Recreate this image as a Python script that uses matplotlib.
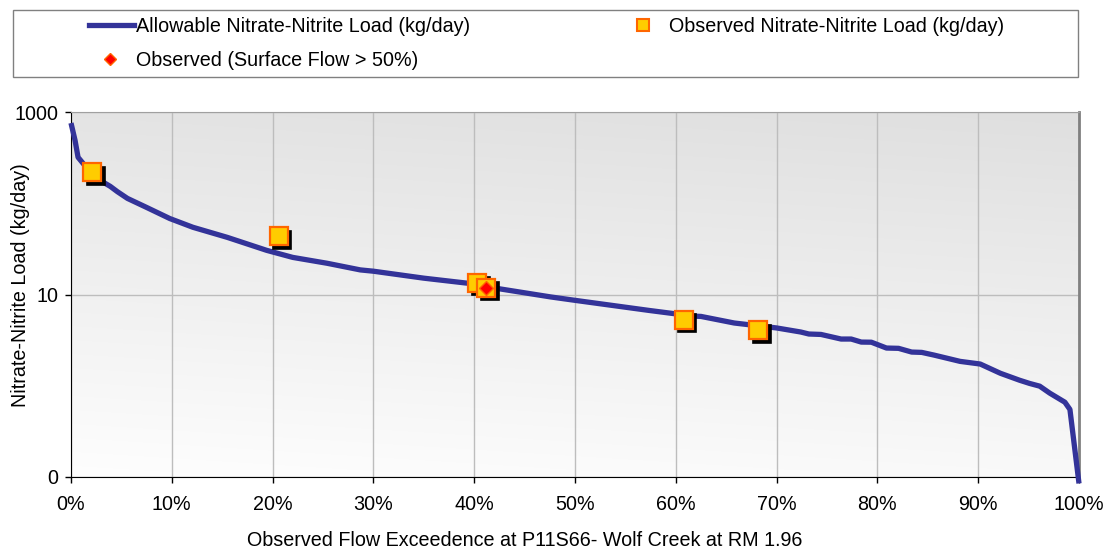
import numpy as np
import matplotlib
matplotlib.use("Agg")
import matplotlib.pyplot as plt
from matplotlib.ticker import FixedLocator, FixedFormatter, PercentFormatter
from matplotlib.lines import Line2D
from matplotlib.patches import Rectangle
from matplotlib.transforms import offset_copy

plt.rcParams['font.family'] = ['Liberation Sans', 'DejaVu Sans']

# ---- data ----
curve_pct = [0.0, 0.4, 0.7, 1.3, 1.9, 2.5, 3.2, 3.9, 4.6, 5.6, 7.5, 9.8, 12.1, 15.5, 19.4,
             22.0, 25.4, 28.7, 30.0, 35.0, 40.1, 42.6, 47.6, 50.1, 57.3, 61.7, 62.5,
             65.8, 70.0, 72.4, 73.2, 74.4, 76.4, 77.4, 78.4, 79.4, 80.9, 82.1, 83.4,
             84.4, 85.6, 88.2, 90.2, 92.2, 94.1, 95.1, 96.1, 97.1, 98.6, 99.1, 100.0]
curve_load = [757, 490, 319, 265, 229, 196, 170, 153, 134, 113, 90, 68, 54.5, 42.3, 30.5,
              25.5, 22.0, 18.6, 18.0, 15.1, 13.0, 11.5, 9.4, 8.6, 6.7, 5.8, 5.75,
              4.87, 4.3, 3.88, 3.69, 3.65, 3.25, 3.25, 3.01, 3.0, 2.59, 2.57, 2.34,
              2.32, 2.17, 1.85, 1.73, 1.37, 1.15, 1.06, 0.99, 0.83, 0.66, 0.55, 0.085]

obs_pct = [2.1, 20.6, 40.3, 41.2, 60.8, 68.2]
obs_load = [218, 43.5, 13.4, 11.8, 5.26, 4.08]

surf_pct = [41.2]
surf_load = [11.8]

y_ticks = [0.1, 10, 1000]
y_tick_labels = ["0", "10", "1000"]
x_ticks = [0, 10, 20, 30, 40, 50, 60, 70, 80, 90, 100]

line_label = "Allowable Nitrate-Nitrite Load (kg/day)"
obs_label = "Observed Nitrate-Nitrite Load (kg/day)"
surf_label = "Observed (Surface Flow > 50%)"
x_label = "Observed Flow Exceedence at P11S66- Wolf Creek at RM 1.96"
y_label = "Nitrate-Nitrite Load (kg/day)"

W, H = 1112, 552
FS = 14.2
fig = plt.figure(figsize=(W / 100, H / 100), dpi=100)
ax = fig.add_axes([71 / W, 1 - 477 / H, 1008 / W, 365 / H])

# background gradient
ny, nx = 200, 200
yy, xx = np.mgrid[0:1:ny * 1j, 0:1:nx * 1j]
t = np.clip(0.85 * yy + 0.15 * xx, 0, 1)  # yy=0 at bottom (origin lower)
top, bot = 0.875, 0.995
val = bot + (top - bot) * t
img = np.dstack([val, val, val])
ax.imshow(img, extent=[0, 1, 0, 1], transform=ax.transAxes, origin='lower',
          aspect='auto', zorder=0, interpolation='bilinear')

ax.set_yscale('log')
ax.set_xlim(0, 100)
ax.set_ylim(0.1, 1000)

ax.plot(curve_pct, curve_load, color='#333399', lw=3.8, zorder=3,
        solid_joinstyle='round', solid_capstyle='butt', clip_on=False)

shadow = offset_copy(ax.transData, fig=fig, x=3.5, y=-3.5, units='dots')
ax.plot(obs_pct, obs_load, ls='none', marker='s', ms=13, mfc='black', mec='black',
        mew=1.2, transform=shadow, zorder=4)
ax.plot(obs_pct, obs_load, ls='none', marker='s', ms=13, mfc='#FFCC00', mec='#FF6600',
        mew=1.6, zorder=5)
ax.plot(surf_pct, surf_load, ls='none', marker='D', ms=7.5, mfc='#FF0000', mec='#FF6600',
        mew=1.0, zorder=6)

ax.yaxis.set_major_locator(FixedLocator(y_ticks))
ax.yaxis.set_major_formatter(FixedFormatter(y_tick_labels))
ax.yaxis.set_minor_locator(FixedLocator([]))
ax.xaxis.set_major_locator(FixedLocator(x_ticks))
ax.xaxis.set_major_formatter(PercentFormatter(xmax=100, decimals=0))

ax.tick_params(axis='both', direction='out', length=4, width=1, color='black',
               labelsize=FS, pad=5)
ax.tick_params(axis='x', pad=9)
ax.grid(True, which='major', color='#BDBDBD', lw=1, zorder=1)
ax.set_axisbelow(True)

ax.spines['left'].set_color('black')
ax.spines['bottom'].set_color('black')
ax.spines['top'].set_color('#A0A0A0')
ax.spines['right'].set_color('#808080')
ax.spines['right'].set_linewidth(2)
for s in ax.spines.values():
    s.set_zorder(2)

fig.text(21 / W, 1 - 285 / H, y_label, rotation=90, ha='center', va='center', fontsize=FS)
fig.text(525 / W, 1 - 540 / H, x_label, ha='center', va='center', fontsize=FS)

# legend frame
fig.patches.append(Rectangle((13 / W, 1 - 77 / H), 1065 / W, 67 / H,
                             transform=fig.transFigure, fill=False,
                             edgecolor='#808080', lw=1))

h_line = Line2D([], [], color='#333399', lw=3.8)
h_obs = Line2D([], [], ls='none', marker='s', ms=8.3, mfc='#FFCC00', mec='#FF6600', mew=1.5)
h_surf = Line2D([], [], ls='none', marker='D', ms=6.5, mfc='#FF0000', mec='#FF6600', mew=1.0)

common = dict(frameon=False, borderpad=0, borderaxespad=0, loc='center left', fontsize=FS)
fig.legend([h_line], [line_label], bbox_to_anchor=(89 / W, 1 - 26 / H),
           handlelength=2.28, handletextpad=0.1, **common)
fig.legend([h_obs], [obs_label], bbox_to_anchor=(633 / W, 1 - 26 / H),
           handlelength=1.0, handletextpad=0.81, **common)
fig.legend([h_surf], [surf_label], bbox_to_anchor=(100 / W, 1 - 60 / H),
           handlelength=1.0, handletextpad=0.81, **common)

fig.savefig("out.png", dpi=100)
